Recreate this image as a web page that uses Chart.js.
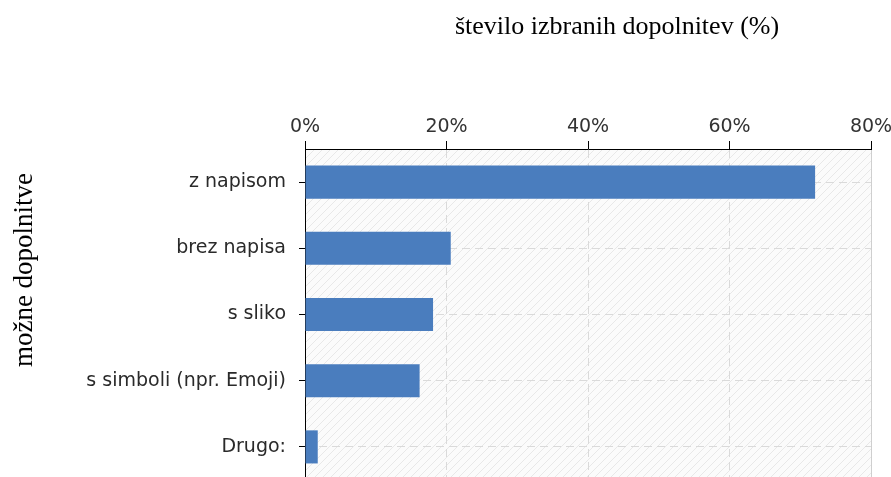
<!DOCTYPE html>
<html>
<head>
<meta charset="utf-8">
<script src="https://cdn.jsdelivr.net/npm/chart.js@4/dist/chart.umd.min.js"></script>
<style>
  html, body { margin: 0; padding: 0; background: #fff; overflow: hidden; }
  #wrap { position: absolute; left: 0; top: 0; width: 891px; height: 480px; }
</style>
</head>
<body>
<div id="wrap"><canvas id="chart"></canvas></div>
<script>
const categories = ['z napisom', 'brez napisa', 's sliko', 's simboli (npr. Emoji)', 'Drugo:'];
const shares = [72.1, 20.6, 18.1, 16.2, 1.8];
const xTicks = [0, 20, 40, 60, 80];
const xTitle = 'število izbranih dopolnitev (%)';
const yTitle = 'možne dopolnitve';

function hatchPattern(ctx) {
  const c = document.createElement('canvas');
  c.width = 8; c.height = 8;
  const p = c.getContext('2d');
  p.fillStyle = '#fbfbfb';
  p.fillRect(0, 0, 8, 8);
  p.strokeStyle = '#e8e8e8';
  p.lineWidth = 1;
  p.beginPath();
  p.moveTo(0, 8); p.lineTo(8, 0);
  p.moveTo(-4, 4); p.lineTo(4, -4);
  p.moveTo(4, 12); p.lineTo(12, 4);
  p.stroke();
  return ctx.createPattern(c, 'repeat');
}

const backdrop = {
  id: 'backdrop',
  beforeDraw(chart) {
    const { ctx, chartArea: a } = chart;
    ctx.save();
    ctx.fillStyle = hatchPattern(ctx);
    ctx.fillRect(a.left, a.top, a.right - a.left, a.bottom - a.top);
    ctx.restore();
  },
  afterDraw(chart) {
    const ctx = chart.ctx;
    ctx.save();
    ctx.fillStyle = '#000';
    ctx.font = '26px "Liberation Serif"';
    ctx.textAlign = 'center';
    ctx.textBaseline = 'alphabetic';
    ctx.fillText(xTitle, 617, 34);
    ctx.translate(32, 270);
    ctx.rotate(-Math.PI / 2);
    ctx.font = '27px "Liberation Serif"';
    ctx.fillText(yTitle, 0, 0);
    ctx.restore();
  }
};

new Chart(document.getElementById('chart'), {
  type: 'bar',
  data: {
    labels: categories,
    datasets: [{
      data: shares,
      backgroundColor: '#4a7dbe',
      borderWidth: 0,
      barPercentage: 0.5,
      categoryPercentage: 1
    }]
  },
  options: {
    indexAxis: 'y',
    responsive: true,
    maintainAspectRatio: false,
    animation: false,
    layout: { padding: { top: 0, right: 20, left: 0, bottom: 0 } },
    plugins: { legend: { display: false }, tooltip: { enabled: false } },
    scales: {
      x: {
        position: 'top',
        min: 0,
        max: 80,
        afterBuildTicks: s => { s.ticks = xTicks.map(v => ({ value: v })); },
        afterFit: s => { s.height = 149; s.paddingRight = 20; s.paddingLeft = 0; },
        ticks: {
          callback: v => v + '%',
          color: '#333',
          font: { family: 'DejaVu Sans', size: 19 },
          padding: 3,
          maxRotation: 0
        },
        grid: {
          color: ctx => ctx.index === 0 ? 'rgba(0,0,0,0)' : (ctx.index === 4 ? '#cfcfcf' : '#dadada'),
          tickColor: '#000',
          tickLength: 8,
          tickWidth: 1,
          tickBorderDash: []
        },
        border: {
          color: '#000',
          width: 1,
          dash: ctx => ctx.index === 4 ? [] : [8, 5]
        }
      },
      y: {
        afterFit: s => { s.width = 305; s.paddingTop = 0; s.paddingBottom = 0; },
        ticks: {
          color: '#2a2a2a',
          font: { family: 'DejaVu Sans', size: 19 },
          padding: 13
        },
        grid: {
          offset: false,
          color: '#dadada',
          tickColor: '#000',
          tickLength: 6,
          tickWidth: 1,
          tickBorderDash: []
        },
        border: {
          color: '#000',
          width: 1,
          dash: [8, 5]
        }
      }
    }
  },
  plugins: [backdrop]
});
</script>
</body>
</html>
